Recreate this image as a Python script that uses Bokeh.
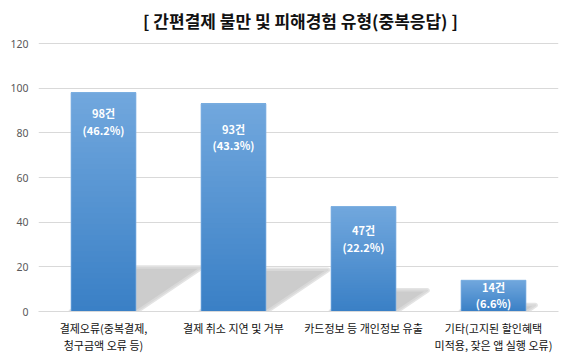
import numpy as np
from bokeh.plotting import figure
from bokeh.models import FixedTicker, ColumnDataSource, Range1d
from bokeh.core.properties import value
from bokeh.embed import file_html
from bokeh.resources import INLINE

# ---- data ----
categories = ["결제오류(중복결제,\n청구금액 오류 등)",
              "결제 취소 지연 및 거부",
              "카드정보 등 개인정보 유출",
              "기타(고지된 할인혜택\n미적용, 잦은 앱 실행 오류)"]
counts = [98, 93, 47, 14]
percents = [46.2, 43.3, 22.2, 6.6]
y_ticks = [0, 20, 40, 60, 80, 100, 120]
title_text = "[ 간편결제 불만 및 피해경험 유형(중복응답) ]"

# ---- styles / positions ----
label_dy1 = [20, 25, 23, 7]      # px below bar top for first label line
label_dy2 = [37, 41, 40, 23]     # px below bar top for second label line
bar_w = 0.5
shadow_k = 0.2                   # shadow height fraction
shadow_shift = 0.5 / 98          # shadow skew (x units per value unit)
top_rgb = np.array([114, 168, 222])
bot_rgb = np.array([58, 128, 198])
KR = "Noto Sans CJK KR"
px_per_unit = 268 / 120
frame_h = 308
y_end = frame_h / px_per_unit     # frame extends above 120 to hold the title
title_y_px = 20                   # title centre, px from the top of the page
frame_top_px = 3

xc = np.arange(len(categories)) + 0.5
vals = np.array(counts, dtype=float)

p = figure(frame_width=520, frame_height=frame_h, output_backend="svg",
           toolbar_location=None, x_range=Range1d(0, len(categories)),
           y_range=Range1d(0, y_end), min_border_left=38, min_border_right=8,
           min_border_top=frame_top_px, min_border_bottom=35)
p.outline_line_color = None
p.background_fill_color = "white"
p.border_fill_color = "white"

# title (inside the extended frame, above the 120 grid line)
p.text(x=[len(categories) / 2 + 0.015],
       y=[y_end - (title_y_px - frame_top_px) / px_per_unit],
       text=[title_text], text_align="center", text_baseline="middle",
       text_font=value(KR), text_font_size="17px", text_font_style="bold",
       text_color="#111111")

# shadows (soft edge: a lighter, slightly larger layer under a darker core)
sx, sy = [], []
for x, v in zip(xc, vals):
    s = shadow_shift * v
    h = shadow_k * v
    sx.append([x - bar_w / 2, x + bar_w / 2, x + bar_w / 2 + s, x - bar_w / 2 + s])
    sy.append([0, 0, h, h])
p.patches(sx, sy, fill_color=None, line_color="#e4e4e4", line_width=5, line_join="round")
p.patches(sx, sy, fill_color="#cccccc", line_color="#d8d8d8", line_width=2, line_join="round")

# gradient bars: overlapping slices drawn bottom-up (no seams)
n = 40
bx, bb, bt, bc = [], [], [], []
for j in range(n):
    f = (j + 0.5) / n
    rgb = (bot_rgb * (1 - f) + top_rgb * f).astype(int)
    for x, v in zip(xc, vals):
        bx.append(x)
        bb.append(v * j / n)
        bt.append(v)
        bc.append("#%02x%02x%02x" % tuple(rgb))
p.vbar(x=bx, bottom=bb, top=bt, width=bar_w, fill_color=bc, line_color=None)
p.vbar(x=xc, top=vals, width=bar_w, fill_color=None, line_color="#86b6e4", line_width=0.7)

# labels
src = ColumnDataSource(dict(x=xc, y=vals,
                            t1=[f"{c}건" for c in counts],
                            t2=[f"({pc:.1f}%)" for pc in percents],
                            d1=label_dy1, d2=label_dy2))
for tcol, dcol in (("t1", "d1"), ("t2", "d2")):
    p.text(x="x", y="y", text=tcol, y_offset=dcol, source=src,
           text_align="center", text_baseline="middle",
           text_font=value(KR), text_font_size="11px", text_font_style="bold",
           text_color="white")

# axes
p.xgrid.visible = False
p.ygrid.grid_line_color = "#d9d9d9"
p.ygrid.ticker = FixedTicker(ticks=y_ticks)

p.yaxis.ticker = FixedTicker(ticks=y_ticks)
p.yaxis.axis_line_color = None
p.yaxis.major_tick_line_color = None
p.yaxis.minor_tick_line_color = None
p.yaxis.major_label_text_font = "Noto Sans"
p.yaxis.major_label_text_font_size = "10.5px"
p.yaxis.major_label_text_color = "#595959"
p.yaxis.major_label_standoff = 4

p.xaxis.ticker = FixedTicker(ticks=list(xc))
p.xaxis.major_label_overrides = {float(x): c for x, c in zip(xc, categories)}
p.xaxis.axis_line_color = "#d9d9d9"
p.xaxis.major_tick_line_color = None
p.xaxis.minor_tick_line_color = None
p.xaxis.major_label_text_font = KR
p.xaxis.major_label_text_font_size = "11px"
p.xaxis.major_label_text_color = "#111111"
p.xaxis.major_label_text_line_height = 1.1
p.xaxis.major_label_standoff = 2

open("out.html", "w").write(file_html(p, INLINE))
